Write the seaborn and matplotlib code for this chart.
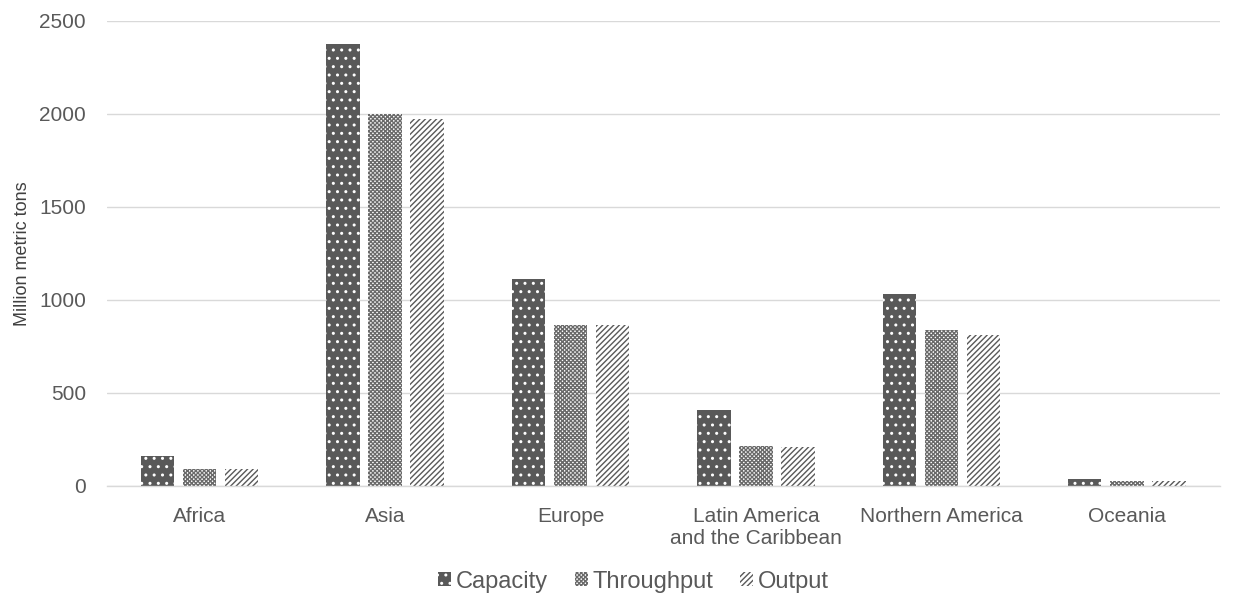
import numpy as np
import matplotlib
matplotlib.use('Agg')
import matplotlib.pyplot as plt
import seaborn as sns
import pandas as pd

regions = ['Africa', 'Asia', 'Europe', 'Latin America\nand the Caribbean', 'Northern America', 'Oceania']
capacity = [160, 2375, 1110, 405, 1030, 35]
throughput = [92, 2000, 866, 213, 840, 27]
output = [88, 1970, 864, 206, 812, 25]
series = ['Capacity', 'Throughput', 'Output']

df = pd.DataFrame({
    'region': regions * 3,
    'value': capacity + throughput + output,
    'series': [s for s in series for _ in regions],
})

sns.set_theme(style='white')
plt.rcParams['font.family'] = ['Liberation Sans', 'DejaVu Sans']
plt.rcParams['hatch.linewidth'] = 1.0

grey = '#595959'
fig = plt.figure(figsize=(12.42, 5.96), dpi=100)
ax = fig.add_axes([0.086, 0.185, 0.896, 0.78])

sns.barplot(data=df, x='region', y='value', hue='series', order=regions, hue_order=series,
            width=0.68, gap=0.21, ax=ax, legend=False)

styles = {
    'Capacity': dict(face=grey, edge='white', hatch='..'),
    'Throughput': dict(face='white', edge='#6a6a6a', hatch='xxxxxxxx'),
    'Output': dict(face='white', edge=grey, hatch='//////'),
}
handles = []
for cont, s in zip(ax.containers, series):
    st = styles[s]
    for bar in cont:
        bar.set_facecolor(st['face'])
        bar.set_edgecolor(st['edge'])
        bar.set_hatch(st['hatch'])
        bar.set_linewidth(0)
    handles.append(matplotlib.patches.Patch(facecolor=st['face'], edgecolor=st['edge'],
                                            hatch=st['hatch'], linewidth=0, label=s))

ax.set_ylim(0, 2500)
ax.set_yticks(np.arange(0, 2501, 500))
ax.yaxis.grid(True, color='#d9d9d9', linewidth=1)
ax.set_axisbelow(True)
for side in ['top', 'right', 'left']:
    ax.spines[side].set_visible(False)
ax.spines['bottom'].set_color('#d9d9d9')
ax.spines['bottom'].set_linewidth(1)
ax.tick_params(axis='both', length=0, labelsize=15, colors=grey)
ax.tick_params(axis='y', pad=15)
ax.tick_params(axis='x', pad=15)
ax.set_xlabel('')
ax.set_ylabel('Million metric tons', fontsize=13, color='#404040', labelpad=6)

fig.legend(handles=handles, loc='lower center', ncol=3, frameon=False, fontsize=17,
           bbox_to_anchor=(0.51, -0.03), handlelength=0.55, handleheight=0.55,
           handletextpad=0.2, columnspacing=1.15, labelcolor=grey)

fig.savefig('out.png', dpi=100)
